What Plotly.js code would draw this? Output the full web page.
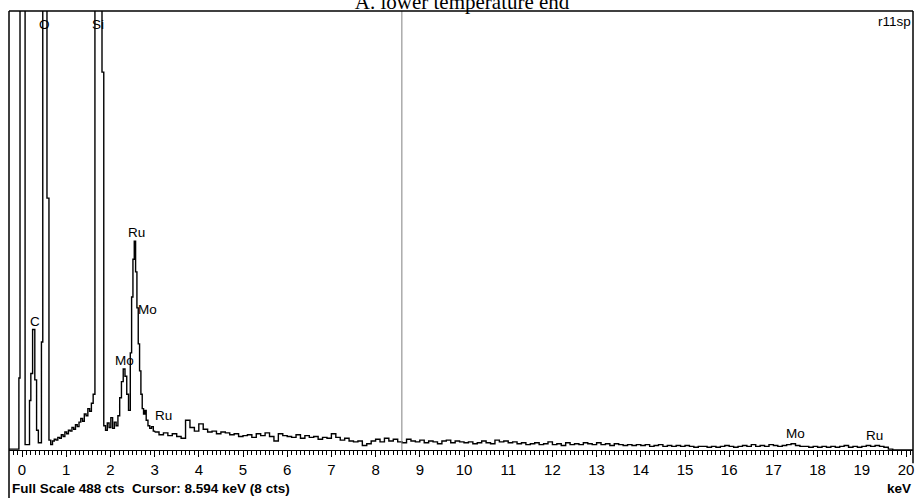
<!DOCTYPE html>
<html>
<head>
<meta charset="utf-8">
<script src="https://cdn.plot.ly/plotly-3.0.1.min.js"></script>
<style>html,body{margin:0;padding:0;background:#fff;}#chart{width:915px;height:498px;}</style>
</head>
<body>
<div id="chart"></div>
<script>
// Low-energy part of the spectrum (keV, counts), read channel by channel
const lowEnergyKeV = [-0.30,-0.07,-0.045,0.07,0.17,0.20,0.24,0.29,0.33,0.37,0.44,0.47,0.565,0.61,
  0.65,0.69,0.73,0.77,0.81,0.85,0.89,0.93,0.97,1.01,1.05,1.09,1.13,1.17,1.21,1.25,1.29,1.33,1.37,1.41,1.45,1.49,1.53,1.57,1.61,
  1.65,1.81,1.85,1.89,1.93,1.97,2.01,2.05,2.09,2.13,2.17,2.21,2.25,2.29,2.33,2.37,2.41,
  2.45,2.48,2.51,2.54,2.57,2.60,2.63,2.66,2.69,2.72,2.75,2.78,2.81,2.85,2.89,2.93,2.97,3.00];
const lowCounts = [1,80,2400,6,55,85,134,78,22,8,120,1800,280,11,
  6,10,12,11,14,13,17,15,20,18,22,21,25,23,28,26,31,35,32,40,38,46,43,52,62,
  1400,420,27,22,30,25,36,24,31,27,38,58,76,90,82,62,44,
  108,170,212,232,198,158,118,88,62,46,40,44,33,27,24,26,21,20];

// High-energy part: channels of 0.1 keV starting at 3.0 keV
const highStartKeV = 3.0;
const highChannelKeV = 0.1;
const highCounts = [20,17,19,16,18,15,13,33,25,21, 29,23,20,21,18,20,19,17,18,15,
  16,17,14,18,16,19,15,10,18,16, 15,14,17,13,16,14,15,12,14,13,
  18,14,11,13,10,9,10,5,7,10, 12,9,13,10,12,9,8,12,10,9,
  11,8,10,9,7,10,11,8,10,9, 8,9,7,8,10,8,7,11,9,10,
  8,9,7,8,6,7,8,6,7,9, 6,7,5,8,6,7,6,8,7,6,
  8,6,7,5,7,6,5,6,5,6, 5,6,4,5,6,4,5,4,5,4,
  5,4,3,4,4,3,4,3,4,5, 4,3,4,5,4,6,4,5,4,6,
  5,4,5,6,7,5,4,4,3,4, 3,4,3,4,3,4,5,3,4,3,
  4,5,4,5,4,3,1,0,0,0, 0,0,0];

// Peak labels
const peakLabels = ["O","Si","C","Ru","Mo","Mo","Ru","Mo","Ru"];
const peakLabelKeV = [0.50,1.72,0.29,2.60,2.85,2.31,3.19,17.51,19.28];
const peakLabelCounts = [473,473,143,242,156,100,38,18,16];

const cursorKeV = 8.594;
const fullScale = 488;
const xTickVals = [0,1,2,3,4,5,6,7,8,9,10,11,12,13,14,15,16,17,18,19,20];

const lineStyle = {color:'#000', width:1.4, shape:'hv'};
const traces = [
  {type:'scatter', mode:'lines', x: lowEnergyKeV, y: lowCounts, line: lineStyle, hoverinfo:'skip'},
  {type:'scatter', mode:'lines', x0: highStartKeV, dx: highChannelKeV, y: highCounts, line: lineStyle, hoverinfo:'skip'}
];

const sans = 'Liberation Sans, Arial, sans-serif';
const annotations = peakLabels.map((t,i)=>({
  text:t, x:peakLabelKeV[i], y:peakLabelCounts[i], xref:'x', yref:'y',
  showarrow:false, xanchor:'center', yanchor:'middle',
  font:{family:sans, size:13.5, color:'#000'}
}));
annotations.push(
  {text:'Full Scale 488 cts\u00a0\u00a0Cursor: 8.594 keV (8 cts)', xref:'paper', yref:'paper', x:0.0011, y:-0.0866,
   xanchor:'left', yanchor:'middle', showarrow:false, font:{family:sans, size:13.5, color:'#000', weight:'bold'}},
  {text:'keV', xref:'paper', yref:'paper', x:0.9995, y:-0.0866, xanchor:'right', yanchor:'middle', showarrow:false,
   font:{family:sans, size:13.5, color:'#000', weight:'bold'}},
  {text:'r11sp', xref:'paper', yref:'paper', x:0.9995, y:0.975, xanchor:'right', yanchor:'middle', showarrow:false,
   font:{family:sans, size:13.5, color:'#000'}}
);

const layout = {
  width:915, height:498,
  margin:{l:9, r:2, t:11, b:48, pad:0},
  paper_bgcolor:'#fff', plot_bgcolor:'#fff',
  showlegend:false,
  title:{text:'A. lower temperature end', x:0.505, xref:'container', y:0.997, yref:'container', yanchor:'middle',
         font:{family:'Liberation Serif, Times New Roman, serif', size:21, color:'#000'}},
  xaxis:{range:[-0.294,20.158], showgrid:false, zeroline:false, showline:true, linecolor:'#000', linewidth:1,
         tickmode:'array', tickvals:xTickVals, ticks:'outside', ticklen:6, tickwidth:1, tickcolor:'#000',
         minor:{dtick:0.1, tick0:0, ticks:'outside', ticklen:3.5, tickwidth:1, tickcolor:'#000'},
         tickfont:{family:sans, size:15, color:'#000'}, fixedrange:true},
  yaxis:{range:[0,fullScale], showgrid:false, zeroline:false, showline:false, showticklabels:false, ticks:'', fixedrange:true},
  shapes:[
    {type:'line', xref:'x', yref:'paper', x0:cursorKeV, x1:cursorKeV, y0:0, y1:1, line:{color:'#808080', width:1}},
    {type:'line', xref:'paper', yref:'paper', x0:0, x1:1, y0:1, y1:1, line:{color:'#000', width:1.5}},
    {type:'line', xref:'paper', yref:'paper', x0:0, x1:0, y0:-0.11, y1:1, line:{color:'#000', width:1.5}},
    {type:'line', xref:'paper', yref:'paper', x0:1, x1:1, y0:-0.03, y1:1, line:{color:'#000', width:1.5}}
  ],
  annotations: annotations
};

Plotly.newPlot('chart', traces, layout, {staticPlot:true, displayModeBar:false});
</script>
</body>
</html>
